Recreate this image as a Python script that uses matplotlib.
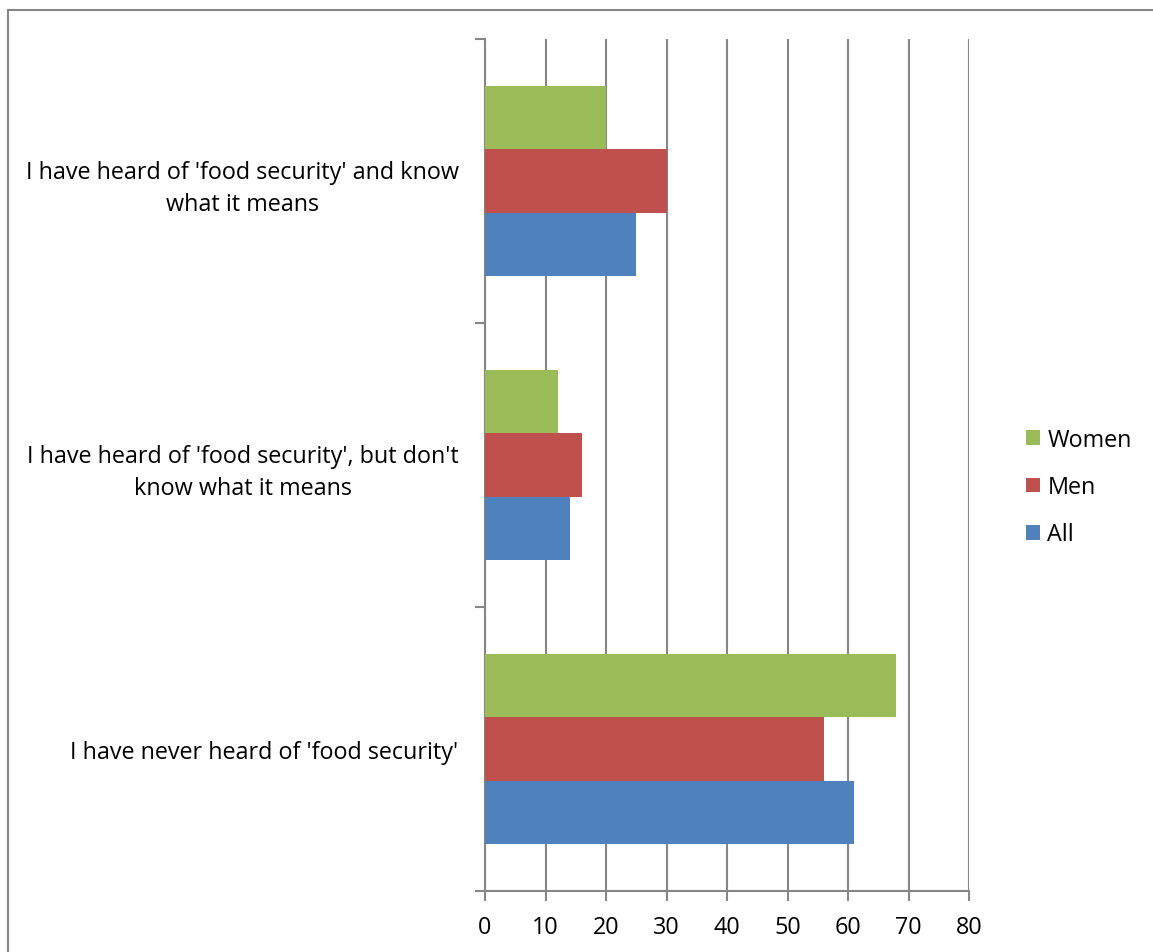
import numpy as np
import matplotlib.pyplot as plt
from matplotlib.lines import Line2D

categories = ["I have never heard of 'food security'",
              "I have heard of 'food security', but don't\nknow what it means",
              "I have heard of 'food security' and know\nwhat it means"]
all_vals = [61, 14, 25]
men_vals = [56, 16, 30]
women_vals = [68, 12, 20]
x_ticks = [0, 10, 20, 30, 40, 50, 60, 70, 80]

plt.rcParams['font.family'] = ['Open Sans', 'DejaVu Sans']
fs = 16.8

fig = plt.figure(figsize=(11.53, 9.53), dpi=100)
ax = fig.add_axes([485 / 1153, 61 / 953, 484 / 1153, 852 / 953])

grey = '#868686'
y = np.arange(len(categories))
h = 2 / 9
ax.barh(y - h, all_vals, height=h, color='#4F81BD', label='All', zorder=3)
ax.barh(y, men_vals, height=h, color='#C0504D', label='Men', zorder=3)
ax.barh(y + h, women_vals, height=h, color='#9BBB59', label='Women', zorder=3)

ax.set_xlim(0, 80)
ax.set_ylim(-0.5, 2.5)
ax.set_xticks(x_ticks)
ax.set_yticks(y)
ax.set_yticklabels(categories, ha='right', multialignment='center', linespacing=1.42)
ax.set_yticks([-0.5, 0.5, 1.5, 2.5], minor=True)
ax.tick_params(axis='y', which='major', length=0, pad=19, labelsize=fs)
ax.tick_params(axis='y', which='minor', length=7, color=grey, width=1.5)
ax.tick_params(axis='x', length=7, color=grey, width=1.5, pad=10, labelsize=fs)

ax.grid(axis='x', color=grey, linewidth=1.5, zorder=0)
for s in ['top', 'right']:
    ax.spines[s].set_visible(False)
for s in ['left', 'bottom']:
    ax.spines[s].set_color(grey)
    ax.spines[s].set_linewidth(1.5)

handles, labels = ax.get_legend_handles_labels()
ax.legend(handles[::-1], labels[::-1], loc='center left', bbox_to_anchor=(1.075, 0.474),
          frameon=False, fontsize=fs, handlelength=0.6, handleheight=0.6,
          handletextpad=0.3, labelspacing=1.0)

# outer chart border (top and left edges)
fig.add_artist(Line2D([8 / 1153, 1], [1 - 11 / 953, 1 - 11 / 953], color=grey, linewidth=1.5))
fig.add_artist(Line2D([8 / 1153, 8 / 1153], [0, 1 - 11 / 953], color=grey, linewidth=1.5))

fig.savefig('out.png', dpi=100)
